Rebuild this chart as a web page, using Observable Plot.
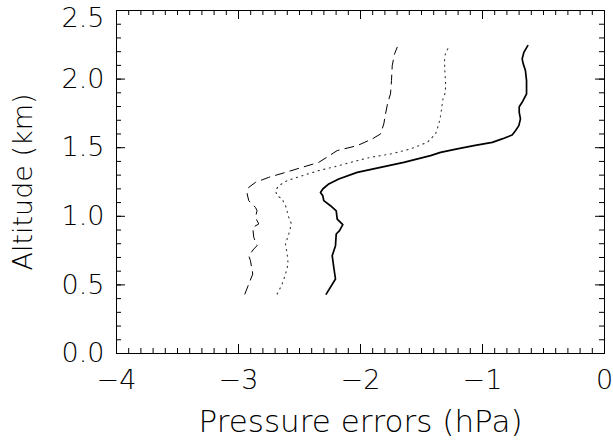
<!DOCTYPE html>
<html>
<head>
<meta charset="utf-8">
<script src="https://cdn.jsdelivr.net/npm/d3@7"></script>
<script src="https://cdn.jsdelivr.net/npm/@observablehq/plot@0.6"></script>
<style>
  html, body { margin: 0; padding: 0; background: #fff; }
</style>
</head>
<body>
<div id="chart"></div>
<script>
// Solid curve: [pressure error (hPa), altitude (km)]
const solidX = [-2.281,-2.205,-2.219,-2.232,-2.205,-2.199,-2.172,-2.145,-2.191,-2.199,-2.246,-2.301,-2.309,-2.328,-2.309,-2.260,-2.178,-2.027,-1.836,-1.645,-1.426,-1.344,-1.207,-1.071,-0.920,-0.839,-0.757,-0.730,-0.702,-0.689,-0.699,-0.699,-0.675,-0.639,-0.639,-0.648,-0.666,-0.675,-0.661,-0.629];
const solidY = [0.433,0.543,0.627,0.713,0.786,0.871,0.895,0.939,0.980,1.040,1.077,1.114,1.150,1.174,1.199,1.236,1.272,1.320,1.357,1.393,1.442,1.466,1.491,1.515,1.539,1.564,1.593,1.624,1.661,1.710,1.758,1.799,1.831,1.892,1.989,2.062,2.111,2.147,2.195,2.244];

// Dotted curve
const dottedX = [-2.683,-2.642,-2.615,-2.593,-2.601,-2.615,-2.588,-2.566,-2.593,-2.609,-2.642,-2.683,-2.697,-2.670,-2.601,-2.478,-2.342,-2.178,-2.082,-1.918,-1.754,-1.590,-1.453,-1.385,-1.358,-1.344,-1.322,-1.303,-1.303,-1.309,-1.311,-1.303,-1.276];
const dottedY = [0.433,0.506,0.579,0.652,0.725,0.798,0.871,0.944,1.004,1.065,1.126,1.150,1.187,1.223,1.260,1.296,1.333,1.369,1.393,1.430,1.454,1.491,1.539,1.600,1.673,1.730,1.867,1.904,1.989,2.062,2.135,2.195,2.232];

// Dashed curve
const dashedX = [-2.948,-2.916,-2.883,-2.902,-2.916,-2.875,-2.848,-2.875,-2.883,-2.834,-2.861,-2.848,-2.861,-2.916,-2.929,-2.916,-2.861,-2.752,-2.615,-2.478,-2.342,-2.191,-2.027,-1.904,-1.836,-1.809,-1.795,-1.776,-1.754,-1.746,-1.740,-1.721,-1.699];
const dashedY = [0.433,0.506,0.579,0.676,0.713,0.761,0.786,0.846,0.919,0.944,0.992,1.041,1.065,1.114,1.163,1.211,1.247,1.284,1.320,1.357,1.393,1.479,1.515,1.564,1.600,1.673,1.746,1.831,1.892,1.989,2.098,2.184,2.232];

// Axis ticks
const xMajor = [-4, -3, -2, -1, 0];
const yMajor = [0.0, 0.5, 1.0, 1.5, 2.0];
const yTop = [2.5];
const xMinor = d3.range(-40, 1).map(d => d / 10);
const yMinor = d3.range(0, 26).map(d => d / 10);

const xLabel = "Pressure errors (hPa)";
const yLabel = "Altitude (km)";

const toRows = (xs, ys) => xs.map((x, i) => ({x, y: ys[i]}));
const solid = toRows(solidX, solidY);
const dotted = toRows(dottedX, dottedY);
const dashed = toRows(dashedX, dashedY);

const W = 613, H = 442;
const mL = 116, mR = 9, mT = 10, mB = 89;
const fw = W - mL - mR, fh = H - mT - mB;
const majLen = 9, minLen = 5;
const font = "'DejaVu Sans', sans-serif";

const chart = Plot.plot({
  width: W,
  height: H,
  marginLeft: mL,
  marginRight: mR,
  marginTop: mT,
  marginBottom: mB,
  style: {fontFamily: font, fontSize: "27px", fontWeight: 200, color: "#000", background: "#fff"},
  x: {domain: [-4, 0]},
  y: {domain: [0, 2.5]},
  marks: [
    // minor ticks (inward) on all four sides
    Plot.ruleX(xMinor, {x: d => d, insetTop: fh - minLen, stroke: "#000", strokeWidth: 1}),
    Plot.ruleX(xMinor, {x: d => d, insetBottom: fh - minLen, stroke: "#000", strokeWidth: 1}),
    Plot.ruleY(yMinor, {y: d => d, insetRight: fw - minLen, stroke: "#000", strokeWidth: 1}),
    Plot.ruleY(yMinor, {y: d => d, insetLeft: fw - minLen, stroke: "#000", strokeWidth: 1}),
    // major ticks
    Plot.ruleX(xMajor, {x: d => d, insetTop: fh - majLen, stroke: "#000", strokeWidth: 1}),
    Plot.ruleX(xMajor, {x: d => d, insetBottom: fh - majLen, stroke: "#000", strokeWidth: 1}),
    Plot.ruleY(yMajor.concat(yTop), {y: d => d, insetRight: fw - majLen, stroke: "#000", strokeWidth: 1}),
    Plot.ruleY(yMajor.concat(yTop), {y: d => d, insetLeft: fw - majLen, stroke: "#000", strokeWidth: 1}),
    Plot.frame({stroke: "#000", strokeWidth: 1}),
    Plot.axisX(xMajor, {
      anchor: "bottom", tickSize: 0, tickPadding: 16,
      tickFormat: d3.format("d"),
      label: null
    }),
    Plot.axisX({
      anchor: "bottom", ticks: [], tickSize: 0, fontSize: 31,
      label: xLabel, labelAnchor: "center", labelOffset: 78, labelArrow: "none"
    }),
    Plot.axisY(yMajor, {
      anchor: "left", tickSize: 0, tickPadding: 12,
      tickFormat: d3.format(".1f"),
      label: yLabel, labelAnchor: "center", labelOffset: 104, labelArrow: "none"
    }),
    Plot.axisY(yTop, {
      anchor: "left", tickSize: 0, tickPadding: 12, dy: 8,
      tickFormat: d3.format(".1f"), label: null
    }),
    Plot.line(dashed, {x: "x", y: "y", stroke: "#000", strokeWidth: 1, strokeDasharray: "9,6"}),
    Plot.line(dotted, {x: "x", y: "y", stroke: "#333", strokeWidth: 1.1, strokeDasharray: "1.2,4.5"}),
    Plot.line(solid, {x: "x", y: "y", stroke: "#000", strokeWidth: 1.7})
  ]
});
document.getElementById("chart").appendChild(chart);
</script>
</body>
</html>
